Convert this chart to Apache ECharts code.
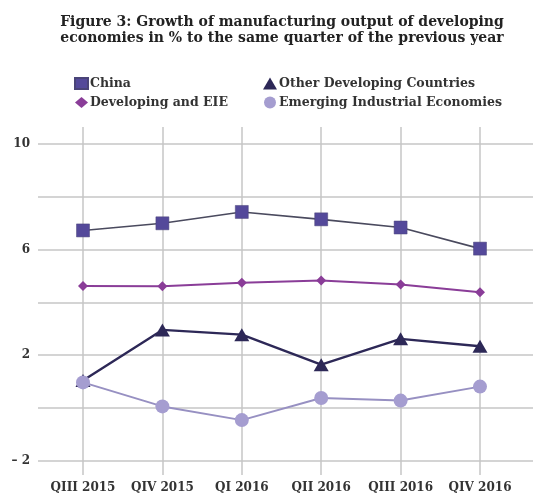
<!DOCTYPE html>
<html><head><meta charset="utf-8">
<script src="https://cdn.jsdelivr.net/npm/echarts@6/dist/echarts.min.js"></script>
<style>html,body{margin:0;padding:0;background:#fff}#c{width:533px;height:495px}</style>
</head><body><div id="c"></div>
<script>
const categories = ['QIII 2015','QIV 2015','QI 2016','QII 2016','QIII 2016','QIV 2016'];
const china = [6.73, 7.0, 7.43, 7.15, 6.84, 6.04];
const developingEIE = [4.62, 4.61, 4.75, 4.83, 4.68, 4.39];
const otherDeveloping = [1.04, 2.96, 2.78, 1.64, 2.62, 2.34];
const emerging = [0.97, 0.06, -0.46, 0.38, 0.28, 0.81];
const yMin = -2, yMax = 10, yStep = 2, yLabelStep = 4;

const font = 'DejaVu Serif';
const legendText = {fontFamily:font, fontWeight:'bold', fontSize:12.5, color:'#333', padding:[0,0,0,-3]};
const chart = echarts.init(document.getElementById('c'), null, {renderer:'canvas'});
chart.setOption({
  animation:false,
  backgroundColor:'#fff',
  title:{
    text:'Figure 3: Growth of manufacturing output of developing\neconomies in % to the same quarter of the previous year',
    left:277, top:10, textAlign:'center',
    textStyle:{fontFamily:font, fontWeight:'bold', fontSize:14, color:'#222', lineHeight:15.5}
  },
  legend:[
    {data:[{name:'China', icon:'rect'},{name:'Developing and EIE', icon:'diamond'}], orient:'vertical', left:69, top:72, itemGap:6,
     itemWidth:13, itemHeight:11, textStyle:legendText},
    {data:[{name:'Other Developing Countries', icon:'triangle'},{name:'Emerging Industrial Economies', icon:'circle'}], orient:'vertical', left:258, top:72, itemGap:6,
     itemWidth:14, itemHeight:12, textStyle:legendText}
  ],
  grid:[
    {left:83, right:53, top:127, bottom:20},
    {left:38, right:0, top:144, bottom:34.3}
  ],
  xAxis:[
    {type:'category', gridIndex:0, data:categories, boundaryGap:false,
     axisLine:{show:false}, axisTick:{show:false},
     splitLine:{show:true, interval:0, lineStyle:{color:'#c6c6c6', width:1.5}},
     axisLabel:{interval:0, fontFamily:font, fontWeight:'bold', fontSize:12, color:'#333', margin:7}},
    {type:'value', gridIndex:1, show:false, min:0, max:1}
  ],
  yAxis:[
    {type:'value', gridIndex:0, min:-2.54, max:10.65, show:false, splitLine:{show:false}},
    {type:'value', gridIndex:1, min:yMin, max:yMax, interval:yStep,
     axisLine:{show:false}, axisTick:{show:false},
     splitLine:{show:true, lineStyle:{color:'#c6c6c6', width:1.5}},
     axisLabel:{fontFamily:font, fontWeight:'bold', fontSize:12, color:'#333', margin:8,
       formatter:v => ((v - yMin) % yLabelStep !== 0) ? '' : (v < 0 ? '\u2013 ' + Math.abs(v) : String(v))}}
  ],
  series:[
    {name:'China', type:'line', xAxisIndex:0, yAxisIndex:0, data:china,
     symbol:'rect', symbolSize:13, itemStyle:{color:'#54499a', borderColor:'#4a4478', borderWidth:0.5},
     lineStyle:{color:'#4a4a5e', width:1.6}, z:3},
    {name:'Developing and EIE', type:'line', xAxisIndex:0, yAxisIndex:0, data:developingEIE,
     symbol:'diamond', symbolSize:[10,10], itemStyle:{color:'#8a3d98'},
     lineStyle:{color:'#8a3d98', width:2}, z:3},
    {name:'Other Developing Countries', type:'line', xAxisIndex:0, yAxisIndex:0, data:otherDeveloping,
     symbol:'triangle', symbolSize:[15,13], itemStyle:{color:'#2d2857'},
     lineStyle:{color:'#2d2857', width:2.4}, z:3},
    {name:'Emerging Industrial Economies', type:'line', xAxisIndex:0, yAxisIndex:0, data:emerging,
     symbol:'circle', symbolSize:14, itemStyle:{color:'#a59dd0'},
     lineStyle:{color:'#9790c2', width:2}, z:4}
  ]
});
</script></body></html>
